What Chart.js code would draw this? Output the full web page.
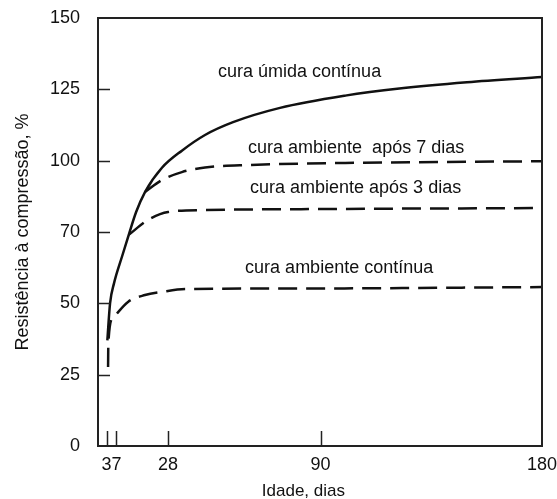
<!DOCTYPE html>
<html>
<head>
<meta charset="utf-8">
<script src="https://cdn.jsdelivr.net/npm/chart.js@4"></script>
<style>
  html, body { margin: 0; padding: 0; background: #fff; }
</style>
</head>
<body>
<canvas id="chart" width="557" height="499"></canvas>
<script>
// Axis ticks
const xTicks = [3, 7, 28, 90, 180];
const yTicks = [0, 25, 50, 75, 100, 125, 150];
const yTickLabels = ['0', '25', '50', '70', '100', '125', '150'];
const xTitle = 'Idade, dias';

// cura úmida contínua (solid)
const umidaDays = [3.3, 4.4, 6, 9.3, 12, 15, 18.6, 25.5, 33.6, 43, 54.4, 73.5, 100, 122, 149.5, 180];
const umidaVals = [37, 50, 57, 66.5, 74, 82, 89, 97.5, 103.5, 109, 113.5, 118.5, 122.8, 125.3, 127.5, 129.3];

// cura ambiente após 7 dias
const apos7Days = [18.6, 25.5, 33.6, 43, 61, 100, 180];
const apos7Vals = [89, 93.2, 96, 97.6, 98.5, 99.2, 99.8];

// cura ambiente após 3 dias
const apos3Days = [12, 19.8, 28, 43, 82, 180];
const apos3Vals = [74, 79.2, 82, 82.7, 83, 83.4];

// cura ambiente contínua
const continuaDays = [3.6, 3.7, 5.6, 11.7, 18.6, 25.5, 35, 82, 180];
const continuaVals = [27.7, 36, 44.9, 50.5, 52.9, 54, 55, 55.2, 55.7];

// curve labels
const labelTexts = ['cura úmida contínua', 'cura ambiente  após 7 dias', 'cura ambiente após 3 dias', 'cura ambiente contínua'];
const labelDays = [48.3, 60.5, 61.3, 59.3];
const labelVals = [131.1, 104.4, 90.4, 62.4];

function toPoints(days, vals) {
    return days.map((d, i) => ({ x: d, y: vals[i] }));
}

const lineColor = '#111';
const fontFamily = '"Liberation Sans", Arial, sans-serif';

const framePlugin = {
    id: 'frame',
    afterDraw(chart) {
        const { ctx, chartArea: a, scales: { x, y } } = chart;
        ctx.save();
        ctx.strokeStyle = '#222';
        ctx.lineWidth = 2;
        ctx.strokeRect(a.left, a.top, a.right - a.left, a.bottom - a.top);

        // inward tick marks
        ctx.lineWidth = 1.5;
        ctx.beginPath();
        yTicks.forEach(v => {
            if (v > 0 && v < 150) {
                const py = Math.round(y.getPixelForValue(v)) + 0.5;
                ctx.moveTo(a.left, py);
                ctx.lineTo(a.left + 12, py);
            }
        });
        xTicks.forEach(v => {
            if (v < 180) {
                const px = Math.round(x.getPixelForValue(v)) + 0.5;
                ctx.moveTo(px, a.bottom);
                ctx.lineTo(px, a.bottom - 15);
            }
        });
        ctx.stroke();

        // curve labels
        ctx.fillStyle = '#111';
        ctx.font = '18px ' + fontFamily;
        ctx.textAlign = 'left';
        ctx.textBaseline = 'middle';
        labelTexts.forEach((t, i) => {
            ctx.fillText(t, x.getPixelForValue(labelDays[i]), y.getPixelForValue(labelVals[i]));
        });

        // x axis title (sits a bit left of centre in the original)
        ctx.font = '17px ' + fontFamily;
        ctx.textAlign = 'center';
        ctx.fillText(xTitle, x.getPixelForValue(83), chart.height - 8);
        ctx.restore();
    }
};

const tickFont = { family: fontFamily, size: 18 };

new Chart(document.getElementById('chart'), {
    type: 'line',
    data: {
        datasets: [
            { label: 'cura úmida contínua', data: toPoints(umidaDays, umidaVals) },
            { label: 'cura ambiente após 7 dias', data: toPoints(apos7Days, apos7Vals), borderDash: [19, 9] },
            { label: 'cura ambiente após 3 dias', data: toPoints(apos3Days, apos3Vals), borderDash: [19, 9] },
            { label: 'cura ambiente contínua', data: toPoints(continuaDays, continuaVals), borderDash: [19, 9] }
        ]
    },
    options: {
        responsive: false,
        animation: false,
        layout: { padding: { left: 0, right: 15, top: 18, bottom: 0 } },
        elements: {
            line: { borderColor: lineColor, borderWidth: 2.5, cubicInterpolationMode: 'monotone', fill: false },
            point: { radius: 0 }
        },
        plugins: {
            legend: { display: false },
            tooltip: { enabled: false }
        },
        scales: {
            x: {
                type: 'linear',
                min: -0.5,
                max: 180,
                afterBuildTicks: scale => { scale.ticks = xTicks.map(v => ({ value: v })); },
                afterFit: scale => {
                    scale.height = 53;
                    scale.paddingLeft = 0;
                    scale.paddingRight = 0;
                },
                grid: { display: false, drawTicks: false },
                border: { display: false },
                ticks: { color: '#111', font: tickFont, padding: 8, maxRotation: 0, autoSkip: false },
                title: { display: false }
            },
            y: {
                min: 0,
                max: 150,
                afterBuildTicks: scale => { scale.ticks = yTicks.map(v => ({ value: v })); },
                afterFit: scale => {
                    scale.width = 98;
                    scale.paddingTop = 0;
                    scale.paddingBottom = 0;
                },
                grid: { display: false, drawTicks: false },
                border: { display: false },
                ticks: {
                    color: '#111',
                    font: tickFont,
                    padding: 18,
                    callback: v => yTickLabels[yTicks.indexOf(v)]
                },
                title: {
                    display: true,
                    text: 'Resistência à compressão, %',
                    color: '#111',
                    font: { family: fontFamily, size: 18, lineHeight: 1 },
                    padding: { top: 14, bottom: 0 }
                }
            }
        }
    },
    plugins: [framePlugin]
});
</script>
</body>
</html>
